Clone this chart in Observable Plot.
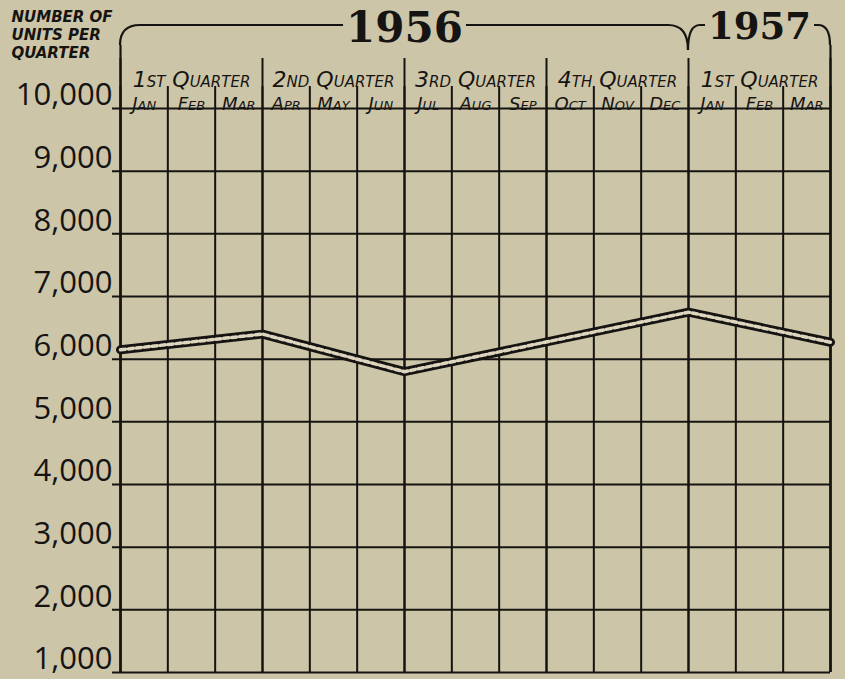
<!DOCTYPE html>
<html><head><meta charset="utf-8">
<script src="https://cdn.jsdelivr.net/npm/d3@7"></script>
<script src="https://cdn.jsdelivr.net/npm/@observablehq/plot@0.6"></script>
<style>
html,body{margin:0;padding:0;background:#cdc5a8;}
#chart svg{display:block}
</style></head><body><div id="chart"></div>
<script>
// ---- data ----
const months = ["Jan","Feb","Mar","Apr","May","Jun","Jul","Aug","Sep","Oct","Nov","Dec","Jan","Feb","Mar"];
const quarters = ["1st Quarter","2nd Quarter","3rd Quarter","4th Quarter","1st Quarter"];
const years = ["1956","1957"];
const yearStart = [0,12];
const yearEnd = [12,15];
const yTicks = [1000,2000,3000,4000,5000,6000,7000,8000,9000,10000];
const pointMonth = [0,3,6,12,15];
const units = [6150,6400,5800,6750,6270];
const yTitle = "NUMBER OF\nUNITS PER\nQUARTER";

const series = pointMonth.map((m,i)=>({m, v: units[i]}));
const bounds = d3.range(0, months.length + 1);
const qBounds = d3.range(0, months.length + 1, 3);
const ink = "#161412";
const hand = "'DejaVu Sans', sans-serif";

const chart = Plot.plot({
  width: 845, height: 679,
  marginLeft: 120, marginRight: 15, marginTop: 108, marginBottom: 7,
  x: {domain: [0, months.length], axis: null},
  y: {domain: [1000, 10000], axis: null},
  style: {background: "transparent", overflow: "visible"},
  marks: [
    Plot.ruleY(yTicks, {y: d=>d, stroke: ink, strokeWidth: 2, insetLeft: -8}),
    Plot.ruleX(bounds, {x: d=>d, stroke: ink, strokeWidth: 2, insetTop: -22}),
    Plot.ruleX(qBounds, {x: d=>d, stroke: ink, strokeWidth: 2, insetTop: -50}),
    Plot.ruleX([0, months.length], {x: d=>d, stroke: ink, strokeWidth: 2.2, insetTop: -63}),
    Plot.line(series, {x: "m", y: "v", stroke: ink, strokeWidth: 9, strokeLinejoin: "miter"}),
    Plot.line(series, {x: "m", y: "v", stroke: "#ddd5bd", strokeWidth: 3.5, strokeDasharray: "5 3"}),
    Plot.text(yTicks, {y: d=>d, frameAnchor: "left", dx: -8, dy: -13, textAnchor: "end",
      text: d=>d3.format(",")(d), fontSize: 31, fontFamily: "'Open Sans', sans-serif", fill: ink}),
    Plot.text(months, {x: (d,i)=>i+0.5, frameAnchor: "top", dy: -11, text: d=>d,
      fontSize: 18, fontStyle: "italic", fontVariant: "small-caps", fontFamily: hand, fill: ink}),
    Plot.text(quarters, {x: (d,i)=>i*3+1.5, frameAnchor: "top", dy: -37, text: d=>d,
      fontSize: 22, fontStyle: "italic", fontVariant: "small-caps", fontFamily: hand, fill: ink}),
    Plot.text(years, {x: (d,i)=>(yearStart[i]+yearEnd[i])/2, frameAnchor: "top", dy: -96, text: d=>d,
      fontSize: (d,i)=>i === 0 ? 42 : 37, fontWeight: "bold", fontFamily: "'DejaVu Serif', serif", fill: ink, className: "yr"}),
    Plot.text([yTitle], {frameAnchor: "top-left", dx: -109, dy: -99, textAnchor: "start", lineAnchor: "top",
      text: d=>d, fontSize: 15, fontWeight: "bold", fontStyle: "italic", fontFamily: hand, lineHeight: 1.2, fill: ink})
  ]
});
document.getElementById("chart").appendChild(chart);

// year brackets drawn with the x scale
const sx = chart.scale("x");
const X = v => sx.apply(v);
const svg = d3.select(chart);
const svgRect = chart.getBoundingClientRect();
const boxes = svg.selectAll(".yr text").nodes().map(n => {
  const r = n.getBoundingClientRect();
  return {x: r.left - svgRect.left, width: r.width};
});
const topY = 25;
years.forEach((yr, i) => {
  const a = X(yearStart[i]), b = X(yearEnd[i]);
  const bb = boxes[i];
  const gl = bb.x - 3, gr = bb.x + bb.width + 3;
  const r = i === 0 ? 20 : 12;
  const yTopL = i === 0 ? 45 : 50;
  const yTopR = i === 0 ? 50 : 45;
  const d = `M${a},${yTopL} Q${a},${topY} ${Math.min(a + r, gl)},${topY} H${gl} M${gr},${topY} H${Math.max(b - r, gr)} Q${b},${topY} ${b},${yTopR}`;
  svg.append("path").attr("d", d).attr("fill", "none").attr("stroke", ink).attr("stroke-width", 2.2);
});
</script>
</body></html>
